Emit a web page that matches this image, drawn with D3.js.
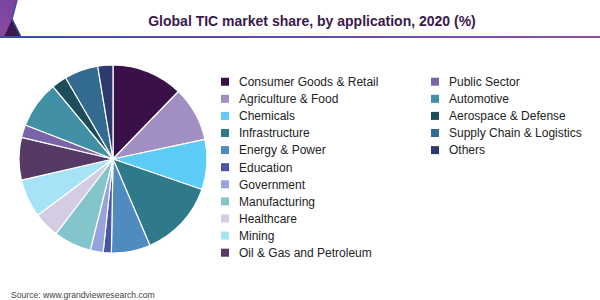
<!DOCTYPE html>
<html><head><meta charset="utf-8">
<script src="https://cdn.jsdelivr.net/npm/d3@7"></script>
<style>html,body{margin:0;padding:0;background:#fff;}svg{display:block;}</style>
</head><body>
<svg id="c" width="600" height="300"></svg>
<script>
const categories = ["Consumer Goods & Retail","Agriculture & Food","Chemicals","Infrastructure","Energy & Power","Education","Government","Manufacturing","Healthcare","Mining","Oil & Gas and Petroleum","Public Sector","Automotive","Aerospace & Defense","Supply Chain & Logistics","Others"];
const shares = [12.25,9.4,8.6,13.3,6.7,1.4,2.2,6.5,4.4,6.6,7.3,2.2,8.1,2.6,5.8,2.6];
const colors = ["#3a1048","#a18fc4","#5ccbf5","#2f7a8a","#4f8bbf","#4a55a8","#97a3dc","#84c5cc","#d4cce3","#a6e3f7","#553a66","#7a64a8","#4190a5","#1d4d5a","#336a90","#2e3a6e"];
const title = "Global TIC market share, by application, 2020 (%)";
const source = "Source: www.grandviewresearch.com";

const svg = d3.select("#c");
const defs = svg.append("defs");
const lg = defs.append("linearGradient").attr("id","line").attr("x1","0").attr("x2","1");
lg.append("stop").attr("offset","0").attr("stop-color","#3b4ea2");
lg.append("stop").attr("offset","1").attr("stop-color","#8a4fa2");
const pg = defs.append("linearGradient").attr("id","corner").attr("x1","0").attr("x2","0").attr("y1","0").attr("y2","1");
pg.append("stop").attr("offset","0").attr("stop-color","#7a44a0");
pg.append("stop").attr("offset","1").attr("stop-color","#8a4a9e");

// header decoration
svg.append("polygon").attr("points","0,0 17,0 12,19 21,37 0,37").attr("fill","url(#corner)");
svg.append("polygon").attr("points","12,19 21,37 4,37").attr("fill","#3d1850");
svg.append("polyline").attr("points","17,0 12,19 21,37").attr("fill","none").attr("stroke","#3b4ea2").attr("stroke-width",1.5);
svg.append("rect").attr("x",0).attr("y",36).attr("width",600).attr("height",2).attr("fill","url(#line)");

svg.append("text").attr("x",312).attr("y",26).attr("text-anchor","middle")
  .attr("font-family","Liberation Sans, Arial, sans-serif").attr("font-weight","bold").attr("font-size",14)
  .attr("fill","#3a1a4a").text(title);

// pie
const cx = 113, cy = 159, r = 94;
const pie = d3.pie().sort(null).value(d => d.v).startAngle(0).endAngle(2*Math.PI);
const arc = d3.arc().innerRadius(0).outerRadius(r);
const data = categories.map((c,i) => ({c, v: shares[i], col: colors[i]}));
svg.append("g").attr("transform",`translate(${cx},${cy})`)
  .selectAll("path").data(pie(data)).join("path")
  .attr("d", arc).attr("fill", d => d.data.col)
  .attr("stroke","#fff").attr("stroke-width",1.2).attr("stroke-linejoin","round");

// legend
const col1 = data.slice(0,11), col2 = data.slice(11);
const rowH = 17.1, y0 = 81.7;
function legend(items, sx, tx){
  const g = svg.append("g");
  items.forEach((d,i) => {
    const y = y0 + i*rowH;
    g.append("rect").attr("x",sx).attr("y",y-4).attr("width",8).attr("height",8).attr("fill",d.col);
    g.append("text").attr("x",tx).attr("y",y+4.3)
      .attr("font-family","Liberation Sans, Arial, sans-serif").attr("font-size",12)
      .attr("fill","#222").text(d.c);
  });
}
legend(col1, 221, 239);
legend(col2, 431, 449);

svg.append("text").attr("x",11).attr("y",298)
  .attr("font-family","Liberation Sans, Arial, sans-serif").attr("font-size",8.6)
  .attr("fill","#444").text(source);
</script>
</body></html>
